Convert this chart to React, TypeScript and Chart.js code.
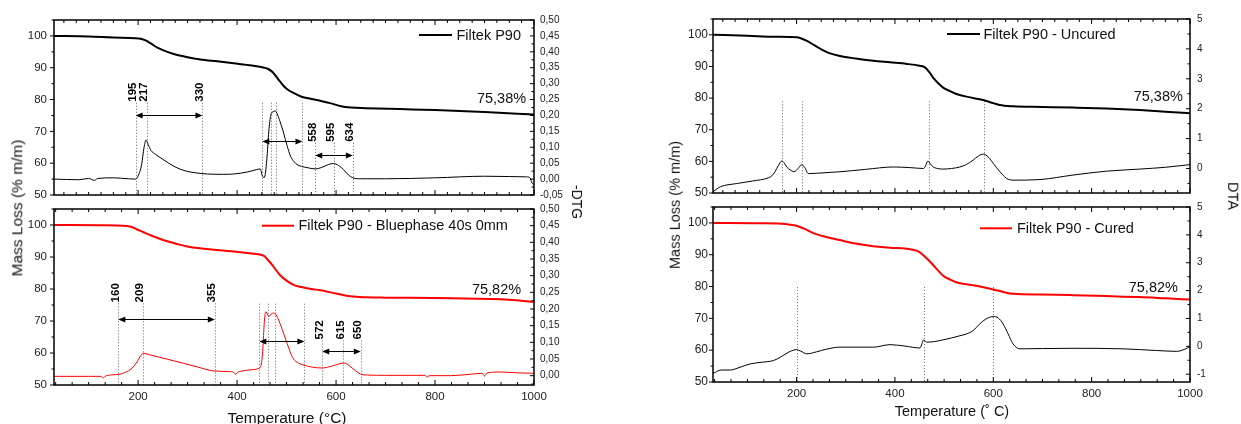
import React, { useEffect, useRef } from 'react';
import { Chart, registerables } from 'chart.js';

Chart.register(...registerables);

const FONT = '"Liberation Sans", Arial, Helvetica, sans-serif';
const W = 1241;
const H = 424;

// ---------------- Data: left panel, top (Filtek P90) ----------------
const ltMassT = [30, 100, 150, 195, 205, 215, 225, 238, 255, 272, 300, 326, 360, 393, 430, 455, 463, 472, 487, 500, 515, 530, 550, 568, 590, 610, 630, 660, 730, 800, 900, 1000];
const ltMassV = [100.0, 99.8, 99.5, 99.3, 99.1, 98.6, 97.7, 96.4, 95.2, 94.3, 93.3, 92.6, 92.0, 91.4, 90.7, 90.0, 89.6, 88.6, 85.6, 83.4, 82.0, 80.9, 80.2, 79.6, 78.8, 77.9, 77.5, 77.3, 77.0, 76.7, 76.1, 75.3];
const ltDtgT = [30, 80, 100, 112, 118, 150, 180, 195, 200, 207, 212, 216, 220, 226, 235, 250, 262, 275, 295, 315, 340, 370, 393, 420, 440, 447, 451, 455, 460, 464, 468, 473, 477, 481, 487, 494, 501, 508, 515, 521, 530, 545, 558, 570, 585, 595, 605, 615, 625, 634, 650, 700, 800, 900, 950, 985, 992, 996, 1000];
const ltDtgV = [0.000, -0.002, 0.002, -0.004, 0.002, 0.004, 0.001, 0.000, 0.010, 0.045, 0.100, 0.123, 0.110, 0.090, 0.078, 0.062, 0.050, 0.038, 0.026, 0.020, 0.016, 0.015, 0.016, 0.022, 0.030, 0.032, 0.010, 0.005, 0.060, 0.150, 0.200, 0.212, 0.214, 0.205, 0.180, 0.145, 0.105, 0.072, 0.055, 0.046, 0.040, 0.035, 0.032, 0.036, 0.046, 0.049, 0.043, 0.030, 0.013, 0.004, 0.001, 0.001, 0.004, 0.009, 0.008, 0.007, 0.004, -0.012, -0.018];

// ---------------- Data: left panel, bottom (Bluephase 40s 0mm) ----------------
const lbMassT = [30, 120, 178, 190, 198, 210, 225, 242, 259, 280, 299, 325, 353, 380, 407, 430, 448, 455, 461, 470, 487, 500, 514, 530, 550, 568, 600, 629, 663, 700, 797, 860, 932, 970, 1000];
const lbMassV = [100.0, 99.9, 99.7, 99.2, 98.6, 97.8, 96.8, 95.8, 94.9, 94.0, 93.3, 92.7, 92.3, 91.9, 91.5, 91.1, 90.7, 90.3, 89.3, 87.7, 84.3, 82.6, 81.3, 80.6, 80.0, 79.6, 78.6, 77.7, 77.4, 77.3, 77.2, 77.0, 76.8, 76.4, 75.9];
const lbDtgT = [30, 100, 125, 129, 133, 144, 164, 181, 190, 198, 205, 210, 218, 225, 260, 292, 320, 353, 387, 393, 397, 401, 410, 430, 444, 449, 452, 455, 458, 462, 465, 469, 474, 479, 484, 492, 501, 508, 514, 524, 534, 550, 571, 590, 605, 615, 622, 630, 640, 649, 663, 700, 780, 784, 788, 831, 870, 895, 900, 905, 932, 960, 1000];
const lbDtgV = [-0.002, -0.002, -0.002, -0.007, -0.002, 0.002, 0.005, 0.015, 0.026, 0.042, 0.060, 0.067, 0.065, 0.062, 0.049, 0.037, 0.026, 0.014, 0.012, 0.010, 0.004, 0.010, 0.014, 0.018, 0.022, 0.035, 0.080, 0.160, 0.192, 0.182, 0.178, 0.185, 0.188, 0.182, 0.167, 0.135, 0.097, 0.068, 0.050, 0.038, 0.032, 0.026, 0.023, 0.028, 0.035, 0.038, 0.035, 0.026, 0.014, 0.005, 0.002, 0.001, 0.001, -0.005, 0.000, 0.000, 0.004, 0.007, -0.001, 0.008, 0.011, 0.009, 0.007];

// ---------------- Data: right panel, top (Uncured) ----------------
const rtMassT = [30, 100, 150, 200, 207, 221, 235, 248, 265, 288, 320, 356, 390, 424, 450, 461, 470, 478, 488, 498, 512, 525, 550, 579, 600, 613, 640, 700, 762, 830, 898, 950, 1000];
const rtMassV = [100.0, 99.7, 99.4, 99.2, 99.0, 98.1, 96.8, 95.6, 94.3, 93.3, 92.5, 91.8, 91.3, 90.8, 90.2, 89.7, 88.2, 86.4, 84.7, 83.3, 82.2, 81.3, 80.3, 79.4, 78.4, 77.8, 77.4, 77.2, 77.0, 76.7, 76.2, 75.7, 75.2];
const rtDtaT = [30, 38, 45, 80, 110, 143, 150, 156, 163, 170, 175, 180, 188, 195, 203, 210, 216, 224, 240, 288, 340, 397, 430, 458, 462, 467, 472, 478, 490, 498, 515, 532, 545, 559, 570, 580, 590, 600, 612, 627, 640, 695, 762, 830, 898, 950, 1000];
const rtDtaV = [-0.78, -0.68, -0.61, -0.50, -0.42, -0.31, -0.24, -0.11, 0.10, 0.25, 0.18, 0.05, -0.06, -0.11, 0.00, 0.12, 0.05, -0.17, -0.16, -0.11, -0.03, 0.05, 0.03, 0.00, 0.08, 0.25, 0.15, 0.05, -0.01, -0.02, 0.00, 0.05, 0.13, 0.28, 0.42, 0.48, 0.38, 0.17, -0.08, -0.33, -0.39, -0.37, -0.22, -0.09, -0.02, 0.04, 0.13];

// ---------------- Data: right panel, bottom (Cured) ----------------
const rbMassT = [30, 120, 180, 200, 215, 234, 260, 288, 320, 356, 390, 424, 445, 451, 465, 478, 488, 498, 512, 530, 559, 580, 600, 620, 640, 700, 762, 830, 898, 950, 1000];
const rbMassV = [100.0, 99.9, 99.6, 99.1, 98.2, 96.8, 95.6, 94.6, 93.5, 92.7, 92.2, 91.9, 91.2, 90.7, 88.8, 86.7, 85.0, 83.4, 82.2, 81.1, 80.4, 79.8, 79.1, 78.3, 77.7, 77.5, 77.3, 77.0, 76.7, 76.3, 75.9];
const rbDtaT = [30, 35, 40, 48, 65, 85, 106, 130, 153, 167, 178, 187, 200, 208, 221, 240, 261, 288, 356, 390, 420, 451, 455, 458, 462, 465, 480, 492, 515, 532, 545, 560, 572, 585, 600, 610, 620, 630, 640, 654, 700, 762, 864, 932, 973, 990, 1000];
const rbDtaV = [-0.97, -0.93, -0.88, -0.85, -0.85, -0.75, -0.63, -0.57, -0.51, -0.39, -0.27, -0.18, -0.12, -0.17, -0.27, -0.20, -0.10, -0.03, -0.03, 0.06, 0.01, -0.06, 0.10, 0.23, 0.18, 0.15, 0.17, 0.21, 0.30, 0.38, 0.44, 0.58, 0.80, 0.98, 1.07, 1.02, 0.80, 0.45, 0.09, -0.09, -0.08, -0.07, -0.09, -0.15, -0.18, -0.10, -0.01];

// ---------------- Tick labels ----------------
const xTickLabels = [200, 400, 600, 800, 1000];
const massTickLabels = [50, 60, 70, 80, 90, 100];
const dtgTopTicks = [-0.05, 0, 0.05, 0.1, 0.15, 0.2, 0.25, 0.3, 0.35, 0.4, 0.45, 0.5];
const dtgBottomTicks = [0, 0.05, 0.1, 0.15, 0.2, 0.25, 0.3, 0.35, 0.4, 0.45, 0.5];
const dtaTopTicks = [0, 1, 2, 3, 4, 5];
const dtaBottomTicks = [-1, 0, 1, 2, 3, 4, 5];

// ---------------- Annotations (temperatures, °C) ----------------
const ltLines = [195, 217, 330, 451, 469, 478, 532, 558, 595, 634];
const ltLineTops = [79, 79, 79, 79, 79, 79, 79, 66.4, 66.4, 66.4];
const ltLabels = [195, 217, 330, 558, 595, 634];
const ltLabelBases = [79, 79, 79, 66.4, 66.4, 66.4];
const ltArrows = [[195, 330, 75.2], [451, 532, 67.0], [558, 634, 62.6]];

const lbLines = [160, 209, 355, 445, 462, 476, 536, 572, 615, 650];
const lbLineTops = [75.5, 75.5, 75.5, 75.4, 75.4, 75.4, 75.4, 63.9, 63.9, 63.9];
const lbLabels = [160, 209, 355, 572, 615, 650];
const lbLabelBases = [75.5, 75.5, 75.5, 63.9, 63.9, 63.9];
const lbArrows = [[160, 355, 70.6], [445, 536, 63.7], [572, 650, 60.6]];

const rtLines = [171, 211, 469, 581];
const rtLineTops = [79, 79, 79, 79];
const rbLines = [200, 460, 600];
const rbLineTops = [79.8, 79.8, 79.8];

type Spec = {
  id: string;
  area: number[];
  massT: number[]; massV: number[]; massColor: string;
  derT: number[]; derV: number[];
  derColor: string;
  y2Min: number; y2Max: number; y2Ticks: number[]; y2Step: number; y2Minor: number; y2Dec: number;
  showX: boolean; xMinor: number;
  legend: string; legLine: number[];
  pct: string; pctPos: number[];
  lines: number[]; lineTops: number[];
  labels: number[]; labelBases: number[];
  arrows: number[][];
  leftFont: number; rightFont: number; xFont: number;
  leftPad: number; rightPad: number; xPad: number;
};

const specs: Spec[] = [
  {
    id: 'lt', area: [54, 20, 534, 195],
    massT: ltMassT, massV: ltMassV, massColor: '#000000',
    derT: ltDtgT, derV: ltDtgV, derColor: '#000000',
    y2Min: -0.05, y2Max: 0.5, y2Ticks: dtgTopTicks, y2Step: 0.05, y2Minor: 0.025, y2Dec: 2,
    showX: false, xMinor: 25,
    legend: 'Filtek P90', legLine: [-115, -82, 15, 4.5],
    pct: '75,38%', pctPos: [984, 80.2],
    lines: ltLines, lineTops: ltLineTops, labels: ltLabels, labelBases: ltLabelBases, arrows: ltArrows,
    leftFont: 11.5, rightFont: 10, xFont: 11.5, leftPad: 7, rightPad: 6, xPad: 5,
  },
  {
    id: 'lb', area: [54, 209, 534, 385],
    massT: lbMassT, massV: lbMassV, massColor: '#ff0000',
    derT: lbDtgT, derV: lbDtgV, derColor: '#ff0000',
    y2Min: -0.028, y2Max: 0.5, y2Ticks: dtgBottomTicks, y2Step: 0.05, y2Minor: 0.025, y2Dec: 2,
    showX: true, xMinor: 200 / 6,
    legend: 'Filtek P90 - Bluephase 40s 0mm', legLine: [-272, -240, 16.7, 4.4],
    pct: '75,82%', pctPos: [974, 79.7],
    lines: lbLines, lineTops: lbLineTops, labels: lbLabels, labelBases: lbLabelBases, arrows: lbArrows,
    leftFont: 11.5, rightFont: 10, xFont: 11.5, leftPad: 7, rightPad: 6, xPad: 5,
  },
  {
    id: 'rt', area: [713, 19, 1190, 193],
    massT: rtMassT, massV: rtMassV, massColor: '#000000',
    derT: rtDtaT, derV: rtDtaV, derColor: '#000000',
    y2Min: -0.82, y2Max: 5, y2Ticks: dtaTopTicks, y2Step: 1, y2Minor: 0.5, y2Dec: 0,
    showX: false, xMinor: 25,
    legend: 'Filtek P90 - Uncured', legLine: [-243, -210, 15, 3.5],
    pct: '75,38%', pctPos: [985.5, 80.4],
    lines: rtLines, lineTops: rtLineTops, labels: [], labelBases: [], arrows: [],
    leftFont: 12, rightFont: 10, xFont: 11.5, leftPad: 5, rightPad: 7, xPad: 4.5,
  },
  {
    id: 'rb', area: [713, 207, 1190, 382],
    massT: rbMassT, massV: rbMassV, massColor: '#ff0000',
    derT: rbDtaT, derV: rbDtaV, derColor: '#000000',
    y2Min: -1.28, y2Max: 5, y2Ticks: dtaBottomTicks, y2Step: 1, y2Minor: 0.5, y2Dec: 0,
    showX: true, xMinor: 200 / 6,
    legend: 'Filtek P90 - Cured', legLine: [-210, -178, 21.3, 5],
    pct: '75,82%', pctPos: [975.4, 79.7],
    lines: rbLines, lineTops: rbLineTops, labels: [], labelBases: [], arrows: [],
    leftFont: 12, rightFont: 10, xFont: 11.5, leftPad: 5, rightPad: 7, xPad: 4.5,
  },
];

const WL = 45;
const WR = 45;
const HB = 25;

function tickRun(scale: any, step: number, majorStep: number, draw: (p: number, major: boolean) => void) {
  const k0 = Math.ceil(scale.min / step - 1e-6);
  const k1 = Math.floor(scale.max / step + 1e-6);
  for (let k = k0; k <= k1; k++) {
    const v = k * step;
    const r = v / majorStep;
    const major = Math.abs(r - Math.round(r)) < 1e-6;
    draw(scale.getPixelForValue(v), major);
  }
}

function makeDecor(s: Spec) {
  return {
    id: 'decor_' + s.id,
    beforeDatasetsDraw(chart: any) {
      const { ctx, chartArea: a } = chart;
      const xs = chart.scales.x;
      const ys = chart.scales.y;
      ctx.save();
      ctx.strokeStyle = '#666666';
      ctx.lineWidth = 1;
      ctx.setLineDash([1, 2]);
      s.lines.forEach((t, i) => {
        const px = Math.round(xs.getPixelForValue(t)) + 0.5;
        ctx.beginPath();
        ctx.moveTo(px, ys.getPixelForValue(s.lineTops[i]));
        ctx.lineTo(px, a.bottom);
        ctx.stroke();
      });
      ctx.restore();
    },
    afterDatasetsDraw(chart: any) {
      const { ctx, chartArea: a } = chart;
      const xs = chart.scales.x;
      const ys = chart.scales.y;
      const y2 = chart.scales.y2;
      ctx.save();
      // arrows
      ctx.strokeStyle = '#000';
      ctx.fillStyle = '#000';
      ctx.lineWidth = 1;
      const L = 7, HW = 3;
      s.arrows.forEach(([t1, t2, m]) => {
        const x1 = xs.getPixelForValue(t1);
        const x2 = xs.getPixelForValue(t2);
        const y = Math.round(ys.getPixelForValue(m)) + 0.5;
        ctx.beginPath();
        ctx.moveTo(x1 + L - 1, y);
        ctx.lineTo(x2 - L + 1, y);
        ctx.stroke();
        ctx.beginPath();
        ctx.moveTo(x1, y); ctx.lineTo(x1 + L, y - HW); ctx.lineTo(x1 + L, y + HW); ctx.closePath();
        ctx.fill();
        ctx.beginPath();
        ctx.moveTo(x2, y); ctx.lineTo(x2 - L, y - HW); ctx.lineTo(x2 - L, y + HW); ctx.closePath();
        ctx.fill();
      });
      // rotated temperature labels
      ctx.font = `bold 11.5px ${FONT}`;
      ctx.textAlign = 'left';
      ctx.textBaseline = 'alphabetic';
      s.labels.forEach((t, i) => {
        const px = xs.getPixelForValue(t);
        const py = ys.getPixelForValue(s.labelBases[i]);
        ctx.save();
        ctx.translate(px + 0.5, py - 1);
        ctx.rotate(-Math.PI / 2);
        ctx.fillText(String(t), 0, 0);
        ctx.restore();
      });
      // residue label
      ctx.font = `14.5px ${FONT}`;
      ctx.fillStyle = '#111';
      ctx.textAlign = 'right';
      ctx.textBaseline = 'middle';
      ctx.fillText(s.pct, xs.getPixelForValue(s.pctPos[0]), ys.getPixelForValue(s.pctPos[1]));
      // legend
      const [lx1, lx2, ly, gap] = s.legLine;
      const legY = a.top + ly;
      ctx.strokeStyle = s.massColor;
      ctx.lineWidth = 2;
      ctx.beginPath();
      ctx.moveTo(a.right + lx1, legY);
      ctx.lineTo(a.right + lx2, legY);
      ctx.stroke();
      ctx.textAlign = 'left';
      ctx.fillText(s.legend, a.right + lx2 + gap, legY + 0.5);
      // frame
      ctx.strokeStyle = '#000';
      ctx.lineWidth = 1.5;
      ctx.strokeRect(a.left, a.top, a.right - a.left, a.bottom - a.top);
      // ticks
      ctx.lineWidth = 1;
      ctx.beginPath();
      tickRun(xs, s.xMinor, 200, (p, major) => {
        const len = major ? 5 : 3;
        ctx.moveTo(p, a.bottom); ctx.lineTo(p, a.bottom - len);
        ctx.moveTo(p, a.top); ctx.lineTo(p, a.top + len);
      });
      tickRun(ys, 5, 10, (p, major) => {
        const len = major ? 4 : 2.5;
        ctx.moveTo(a.left, p); ctx.lineTo(a.left - len, p);
      });
      tickRun(y2, s.y2Minor, s.y2Step, (p, major) => {
        const len = major ? 4 : 2.5;
        ctx.moveTo(a.right, p); ctx.lineTo(a.right - len, p);
      });
      ctx.stroke();
      ctx.restore();
    },
  };
}

const hiddenGrid = { display: false, drawTicks: false, tickLength: 0 };

function buildConfig(s: Spec): any {
  const [l, t, r, b] = s.area;
  const noPad = (sc: any) => { sc.paddingTop = 0; sc.paddingBottom = 0; sc.paddingLeft = 0; sc.paddingRight = 0; };
  return {
    type: 'line',
    data: {
      datasets: [
        {
          label: s.legend,
          data: s.massT.map((x, i) => ({ x, y: s.massV[i] })),
          yAxisID: 'y',
          borderColor: s.massColor,
          borderWidth: 2,
          pointRadius: 0,
          cubicInterpolationMode: 'monotone',
        },
        {
          label: s.y2Dec === 2 ? '-DTG' : 'DTA',
          data: s.derT.map((x, i) => ({ x, y: s.derV[i] })),
          yAxisID: 'y2',
          borderColor: s.derColor,
          borderWidth: 1,
          pointRadius: 0,
          cubicInterpolationMode: 'monotone',
        },
      ],
    },
    options: {
      animation: false,
      responsive: false,
      maintainAspectRatio: false,
      events: [],
      layout: {
        padding: {
          left: l - WL,
          right: W - r - WR,
          top: t,
          bottom: H - b - (s.showX ? HB : 0),
        },
      },
      plugins: { legend: { display: false }, tooltip: { enabled: false } },
      scales: {
        x: {
          type: 'linear',
          min: 30,
          max: 1000,
          bounds: 'data',
          display: s.showX,
          afterBuildTicks: (sc: any) => { sc.ticks = xTickLabels.map((v) => ({ value: v })); },
          afterFit: (sc: any) => { sc.height = s.showX ? HB : 0; noPad(sc); },
          grid: hiddenGrid,
          border: { display: false },
          ticks: { font: { family: FONT, size: s.xFont }, color: '#222', padding: s.xPad, maxRotation: 0, autoSkip: false, callback: (v: number) => String(v) },
        },
        y: {
          type: 'linear',
          position: 'left',
          min: 50,
          max: 105,
          bounds: 'data',
          afterBuildTicks: (sc: any) => { sc.ticks = massTickLabels.map((v) => ({ value: v })); },
          afterFit: (sc: any) => { sc.width = WL; noPad(sc); },
          grid: hiddenGrid,
          border: { display: false },
          ticks: { font: { family: FONT, size: s.leftFont }, color: '#222', padding: s.leftPad, autoSkip: false, callback: (v: number) => String(v) },
        },
        y2: {
          type: 'linear',
          position: 'right',
          min: s.y2Min,
          max: s.y2Max,
          bounds: 'data',
          afterBuildTicks: (sc: any) => { sc.ticks = s.y2Ticks.map((v) => ({ value: v })); },
          afterFit: (sc: any) => { sc.width = WR; noPad(sc); },
          grid: hiddenGrid,
          border: { display: false },
          ticks: {
            font: { family: FONT, size: s.rightFont }, color: '#222', padding: s.rightPad, autoSkip: false,
            callback: (v: number) => (s.y2Dec === 2 ? v.toFixed(2).replace('.', ',') : String(Math.round(v))),
          },
        },
      },
    },
    plugins: [makeDecor(s)],
  };
}

function SubChart({ spec }: { spec: Spec }) {
  const ref = useRef<HTMLCanvasElement>(null);
  useEffect(() => {
    const chart = new Chart(ref.current as HTMLCanvasElement, buildConfig(spec));
    return () => chart.destroy();
  }, [spec]);
  return (
    <canvas
      ref={ref}
      width={W}
      height={H}
      style={{ position: 'absolute', left: 0, top: 0, width: W, height: H }}
    />
  );
}

const titleBase: React.CSSProperties = {
  position: 'absolute',
  whiteSpace: 'nowrap',
  fontFamily: FONT,
  color: '#111',
  lineHeight: 1,
};

function Title({ text, x, y, rot, size }: { text: string; x: number; y: number; rot: number; size: number }) {
  return (
    <div style={{ ...titleBase, fontSize: size, left: x, top: y, transform: `translate(-50%, -50%) rotate(${rot}deg)` }}>{text}</div>
  );
}

export default function App() {
  return (
    <div style={{ position: 'fixed', left: 0, top: 0, width: W, height: H, background: '#fff', overflow: 'hidden' }}>
      {specs.map((s) => (
        <SubChart key={s.id} spec={s} />
      ))}
      <Title text="Mass Loss (% m/m)" x={17} y={208} rot={-90} size={15.5} />
      <Title text="-DTG" x={577} y={202} rot={90} size={14} />
      <Title text="Temperature (°C)" x={287} y={418} rot={0} size={15.5} />
      <Title text="Mass Loss (% m/m)" x={675} y={205} rot={-90} size={14.5} />
      <Title text="DTA" x={1233} y={196} rot={90} size={14.5} />
      <Title text="Temperature (˚ C)" x={952} y={411} rot={0} size={14.5} />
    </div>
  );
}
